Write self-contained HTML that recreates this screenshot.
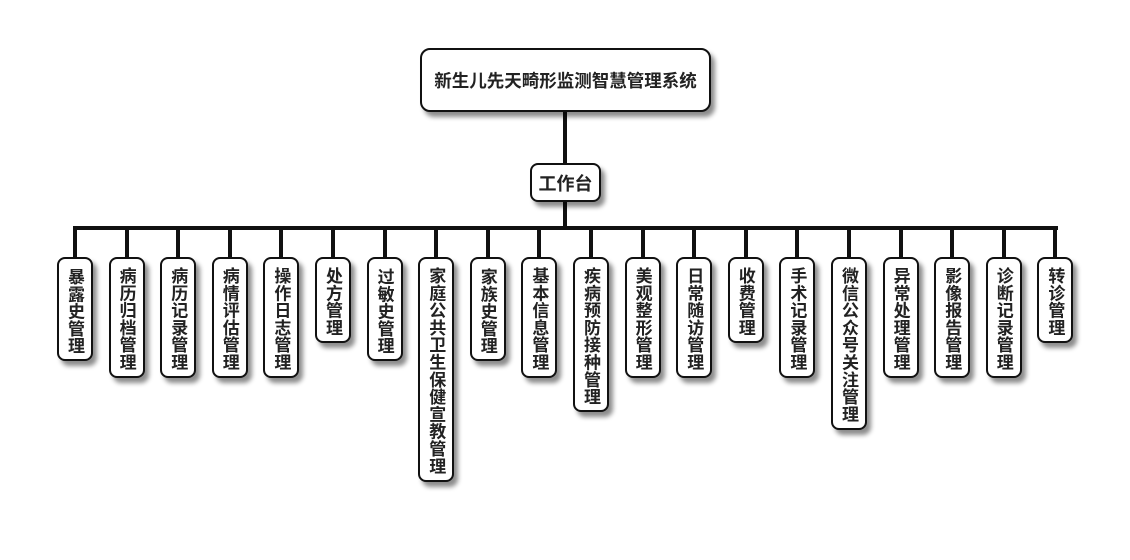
<!DOCTYPE html><html><head><meta charset="utf-8"><style>
body{margin:0;width:1130px;height:560px;background:#fff;position:relative;overflow:hidden;font-family:"Liberation Sans","Noto Sans CJK SC",sans-serif;font-weight:bold;color:#222}
.b{position:absolute;background:#fff;border:2px solid #111;border-radius:8px;box-shadow:4px 5px 5px rgba(0,0,0,.45);box-sizing:border-box;display:flex;align-items:center;justify-content:center}
.v{width:36px;top:257px;writing-mode:vertical-rl;font-size:17px;line-height:34px;letter-spacing:0.3px;padding-top:4px;align-items:flex-start}
.l{position:absolute;background:#111}
</style></head><body>
<div class="l" style="left:563px;top:110px;width:4px;height:56px"></div>
<div class="l" style="left:563px;top:200px;width:4px;height:30px"></div>
<div class="l" style="left:73px;top:226px;width:985px;height:4px"></div>
<div class="b" style="left:420px;top:48px;width:291px;height:64px;font-size:17.5px;border-radius:10px">新生儿先天畸形监测智慧管理系统</div>
<div class="b" style="left:530px;top:163px;width:71px;height:39px;font-size:18px">工作台</div>
<div id="c"></div>
<script>
var n=["暴露史管理","病历归档管理","病历记录管理","病情评估管理","操作日志管理","处方管理","过敏史管理","家庭公共卫生保健宣教管理","家族史管理","基本信息管理","疾病预防接种管理","美观整形管理","日常随访管理","收费管理","手术记录管理","微信公众号关注管理","异常处理管理","影像报告管理","诊断记录管理","转诊管理"];
var h="";
n.forEach(function(t,i){var cx=75+i*51.6;var ht=t.length*17.3+17;
h+='<div class="l" style="left:'+(cx-2)+'px;top:228px;width:4px;height:30px"></div>';
h+='<div class="b v" style="left:'+(cx-18)+'px;height:'+ht+'px">'+t+'</div>';});
document.getElementById("c").innerHTML=h;
</script>
</body></html>
